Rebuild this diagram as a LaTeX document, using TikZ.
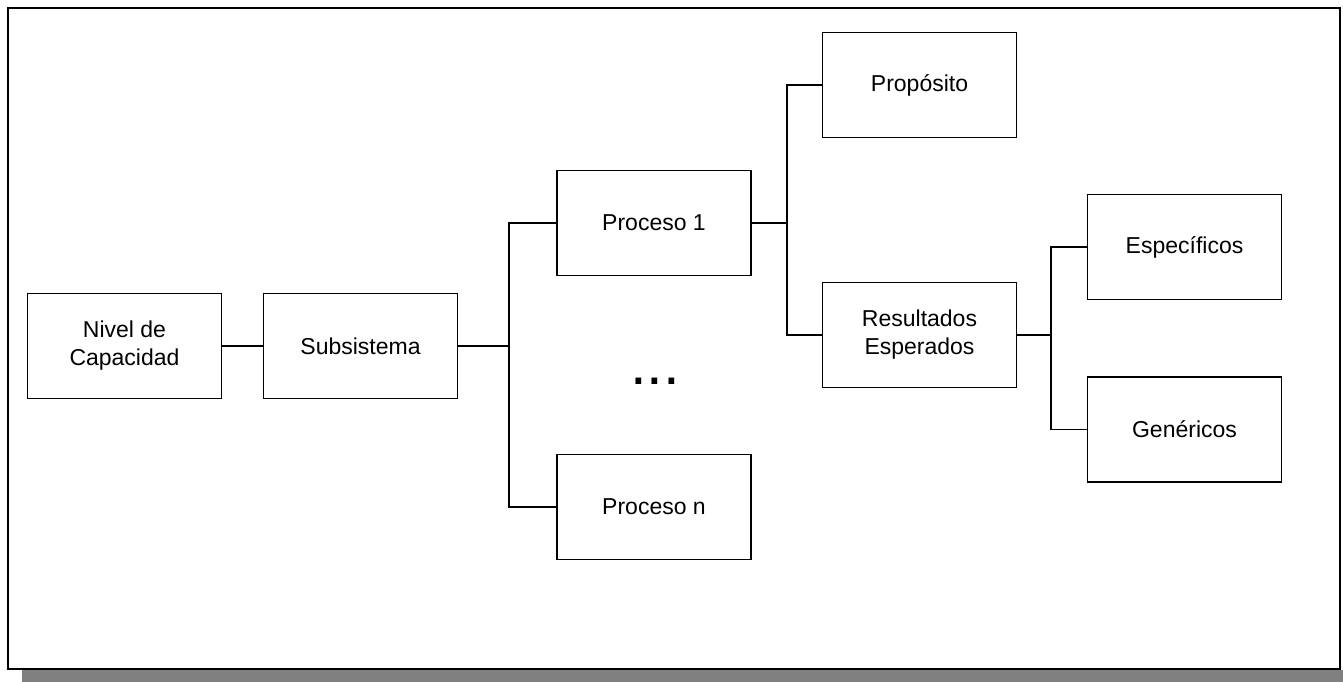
\documentclass[tikz,border=0pt]{standalone}
\usepackage{fontspec}
\setmainfont{Liberation Sans}
\begin{document}
\begin{tikzpicture}[x=1pt,y=-1pt,
  box/.style={draw=black,line width=1.3pt,minimum width=194pt,minimum height=105pt,align=center,inner sep=0pt,font=\fontsize{23}{28}\selectfont},
  conn/.style={draw=black,line width=1.3pt}]
\useasboundingbox (0,0) rectangle (1343,682);
% shadow and frame
\fill[black!50] (22,670) rectangle (1343,682);
\draw[line width=1.8pt,fill=white] (8,8) rectangle (1340,669);
% nodes
\node[box] (nivel) at (124.5,346) {Nivel de\\Capacidad};
\node[box] (sub) at (360.5,346) {Subsistema};
\node[box] (p1) at (654,223) {Proceso 1};
\node[box] (pn) at (654,507) {Proceso n};
\node[inner sep=0pt,font=\fontsize{60}{60}\selectfont] (dots) at (655,381) {...};
\node[box] (prop) at (919.5,85) {Propósito};
\node[box] (res) at (919.5,335) {Resultados\\Esperados};
\node[box] (esp) at (1184.5,247) {Específicos};
\node[box] (gen) at (1184.5,429.5) {Genéricos};
% connectors
\coordinate (j1) at (509,346);
\coordinate (j2) at (787,223);
\coordinate (j3) at (1051,335);
\draw[conn] (nivel.east) -- (sub.west);
\draw[conn] (sub.east) -- (j1);
\draw[conn] (p1.west) -| (j1) |- (pn.west);
\draw[conn] (p1.east) -- (j2);
\draw[conn] (prop.west) -| (j2) |- (res.west);
\draw[conn] (res.east) -- (j3);
\draw[conn] (esp.west) -| (j3) |- (gen.west);
\end{tikzpicture}
\end{document}
